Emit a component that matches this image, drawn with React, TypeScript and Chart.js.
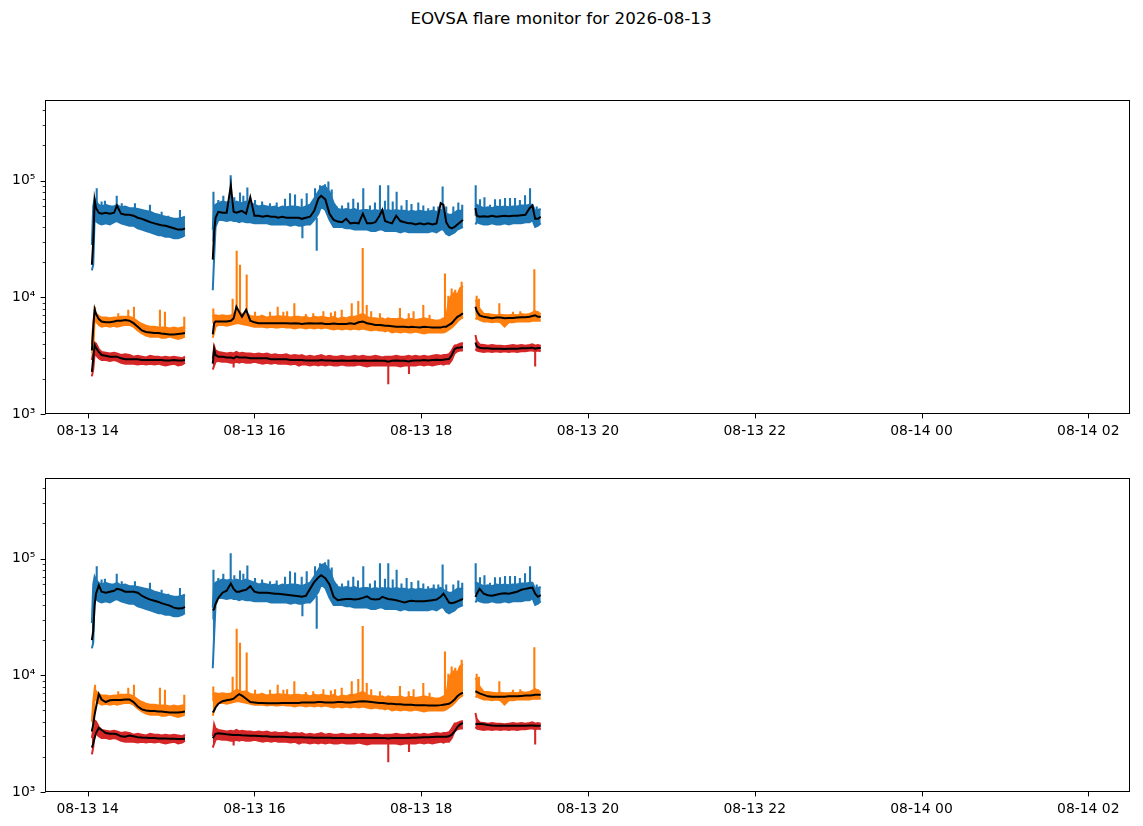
import { useEffect, useRef } from 'react';
import { Chart, registerables, type ChartConfiguration, type Plugin } from 'chart.js';

Chart.register(...registerables);

// sample times, minutes after 08-13 14:00 (three observing segments)
const sampleMinutes = [
  3, 4, 5, 6, 8, 10, 13, 16, 19, 21, 24, 27, 30, 33, 36, 39, 42, 45, 48, 51, 53, 56, 59, 62, 65, 68, 70,
  90, 91, 92, 94, 97, 100, 103, 105, 107, 109, 111, 114, 117, 120, 123, 126, 129, 132, 135, 137, 140, 143, 146, 149, 152,
  154, 157, 160, 163, 166, 168, 171, 174, 177, 180, 183, 186, 189, 192, 195, 198, 201, 204, 207, 210, 212, 214, 216, 219,
  222, 225, 228, 231, 233, 236, 239, 242, 245, 248, 251, 254, 256, 258, 260, 262, 264, 266, 268, 270,
  279, 280, 282, 285, 288, 291, 294, 297, 300, 303, 306, 309, 312, 315, 318, 320, 322, 324, 326,
];

// all values below are in thousands of counts
// raw data: upper / lower edge of the noise band per sample
const blueHighK = [
  28, 60, 70, 66, 62, 60, 62, 60, 60, 62, 59, 60, 58, 58, 57, 56, 55, 54, 52, 51, 50, 49, 48, 47, 47, 48, 49,
  38, 60, 62, 64, 66, 65, 66, 64, 66, 65, 64, 66, 64, 62, 60, 61, 60, 59, 60, 58, 60, 59, 60, 60, 59,
  58, 60, 62, 70, 80, 88, 88, 80, 64, 57, 56, 57, 56, 57, 55, 56, 56, 55, 56, 55, 56, 55, 56, 55,
  56, 55, 55, 54, 55, 54, 55, 54, 54, 55, 54, 56, 54, 52, 51, 51, 53, 55, 55, 56,
  60, 62, 60, 58, 59, 58, 60, 59, 60, 59, 60, 60, 61, 61, 62, 62, 55, 56, 57,
];
const blueLowK = [
  17, 19, 48, 45, 43, 42, 43, 42, 44, 45, 43, 42, 41, 41, 39, 38, 37, 36, 35, 34, 34, 33, 33, 32, 32, 33, 34,
  11.5, 22, 40, 46, 46, 45, 46, 45, 45, 44, 45, 44, 44, 43, 43, 43, 43, 42, 42, 42, 42, 42, 41, 42, 41,
  41, 42, 42, 46, 52, 60, 56, 46, 40, 40, 40, 39, 39, 38, 38, 38, 38, 37, 37, 38, 38, 37, 37, 37,
  37, 36, 37, 36, 36, 36, 36, 36, 36, 37, 36, 38, 38, 35, 34, 35, 36, 38, 39, 40,
  42, 44, 43, 42, 42, 43, 42, 42, 43, 42, 43, 43, 43, 44, 44, 46, 40, 41, 43,
];
const orangeHighK = [
  4.0, 6.0, 7.6, 7.3, 6.9, 6.7, 6.7, 6.6, 6.7, 6.7, 6.8, 6.8, 6.8, 6.6, 6.2, 5.9, 5.7, 5.6, 5.6, 5.5, 5.5, 5.5, 5.4, 5.5, 5.4, 5.5, 5.6,
  6.8, 7.0, 7.0, 6.9, 7.0, 6.9, 7.0, 7.2, 7.5, 7.4, 7.2, 7.3, 6.9, 6.8, 6.8, 6.9, 6.7, 6.8, 6.8, 6.9, 6.8, 6.8, 6.7, 6.8, 6.8,
  6.7, 6.8, 6.6, 6.8, 6.7, 6.8, 6.7, 6.6, 6.8, 6.5, 6.7, 6.6, 6.8, 6.8, 7.0, 7.2, 6.8, 6.6, 6.6, 6.5, 6.6, 6.4, 6.6, 6.5,
  6.5, 6.6, 6.4, 6.5, 6.5, 6.4, 6.5, 6.6, 6.5, 6.4, 6.3, 6.4, 6.6, 6.8, 9.5, 10.5, 11, 10.5, 12, 12.5,
  9.5, 9.2, 8.0, 7.2, 7.2, 7.1, 7.0, 7.1, 7.0, 7.0, 7.1, 7.0, 7.2, 7.1, 7.2, 7.4, 7.6, 7.4, 7.2,
];
const orangeLowK = [
  3.3, 3.6, 6.5, 6.2, 5.8, 5.6, 5.7, 5.6, 5.7, 5.6, 5.7, 5.8, 5.8, 5.6, 5.2, 4.9, 4.7, 4.6, 4.6, 4.6, 4.5, 4.5, 4.6, 4.5, 4.4, 4.5, 4.6,
  4.5, 5.0, 5.6, 5.8, 5.8, 5.7, 5.8, 5.9, 6.0, 6.0, 5.9, 5.8, 5.7, 5.6, 5.6, 5.6, 5.5, 5.6, 5.5, 5.5, 5.6, 5.5, 5.5, 5.4, 5.5,
  5.5, 5.4, 5.5, 5.4, 5.5, 5.4, 5.5, 5.4, 5.3, 5.4, 5.3, 5.4, 5.3, 5.4, 5.3, 5.4, 5.3, 5.2, 5.3, 5.2, 5.2, 5.1, 5.2, 5.0,
  5.1, 5.0, 5.1, 5.0, 5.0, 5.1, 5.0, 4.9, 5.0, 5.0, 5.0, 5.0, 5.0, 5.1, 5.3, 5.5, 5.8, 6.2, 6.5, 6.8,
  6.5, 6.6, 6.4, 6.2, 6.2, 6.1, 6.2, 6.1, 5.6, 6.1, 6.1, 6.2, 6.2, 6.2, 6.2, 6.3, 6.3, 6.3, 6.3,
];
const redHighK = [
  2.9, 3.4, 4.1, 4.0, 3.6, 3.4, 3.35, 3.3, 3.35, 3.3, 3.2, 3.25, 3.2, 3.1, 3.15, 3.1, 3.05, 3.15, 3.1, 3.1, 3.05, 3.1, 3.05, 3.1, 3.05, 3.0, 3.1,
  3.0, 3.8, 3.5, 3.4, 3.35, 3.3, 3.35, 3.3, 3.4, 3.3, 3.35, 3.3, 3.3, 3.25, 3.3, 3.25, 3.3, 3.2, 3.25, 3.2, 3.2, 3.25, 3.15, 3.2, 3.15,
  3.2, 3.1, 3.15, 3.1, 3.15, 3.2, 3.1, 3.15, 3.1, 3.1, 3.15, 3.1, 3.1, 3.15, 3.1, 3.15, 3.1, 3.1, 3.15, 3.1, 3.05, 3.1, 3.1, 3.1,
  3.15, 3.1, 3.1, 3.15, 3.1, 3.15, 3.1, 3.15, 3.1, 3.15, 3.2, 3.15, 3.2, 3.2, 3.25, 3.5, 3.85, 3.9, 4.0, 4.05,
  4.75, 4.2, 3.95, 3.9, 3.85, 3.9, 3.85, 3.85, 3.8, 3.85, 3.9, 3.85, 3.9, 3.85, 3.9, 3.95, 3.85, 3.9, 3.85,
];
const redLowK = [
  2.1, 2.4, 3.3, 3.2, 3.0, 2.9, 2.9, 2.85, 2.9, 2.85, 2.75, 2.7, 2.7, 2.7, 2.65, 2.7, 2.65, 2.7, 2.65, 2.7, 2.65, 2.6, 2.65, 2.7, 2.6, 2.65, 2.75,
  2.4, 2.6, 2.8, 2.85, 2.8, 2.8, 2.75, 2.75, 2.8, 2.75, 2.8, 2.75, 2.75, 2.8, 2.75, 2.7, 2.75, 2.7, 2.75, 2.7, 2.7, 2.7, 2.65, 2.7, 2.6,
  2.65, 2.65, 2.6, 2.65, 2.6, 2.65, 2.6, 2.65, 2.6, 2.6, 2.65, 2.6, 2.6, 2.6, 2.65, 2.6, 2.55, 2.6, 2.6, 2.6, 2.6, 2.6, 2.6, 2.6,
  2.6, 2.55, 2.6, 2.6, 2.6, 2.6, 2.65, 2.6, 2.65, 2.6, 2.65, 2.7, 2.65, 2.7, 2.7, 2.9, 3.3, 3.45, 3.5, 3.5,
  3.6, 3.5, 3.45, 3.4, 3.45, 3.4, 3.45, 3.4, 3.45, 3.4, 3.45, 3.4, 3.45, 3.45, 3.5, 3.5, 3.45, 3.5, 3.45,
];

// single-sample excursions: time (minutes), start and end value (thousands)
const blueSpikeMinutes = [
  6.5, 10, 12.4, 16, 20.9, 24.5, 34, 44.8, 53.2, 58, 66.4, 90.5, 94, 97.6, 102.9, 105.5, 109.6, 112, 114.9, 120.4,
  125.5, 131.2, 136, 142, 145.6, 149.2, 154, 154.5, 157.6, 163.6, 164.8, 167.2, 169.6, 170.8, 173.2, 175.6, 179.2, 183, 187.5, 191.1,
  194.5, 198.3, 203.1, 206.7, 210.3, 213.9, 216.3, 219.5, 222.3, 225.8, 229.5, 233, 237.9, 241.5, 245, 249, 252.3, 255.4, 258, 263.1,
  266.7, 269.5, 279.2, 282.3, 285.5, 289.5, 293.1, 296.7, 300.3, 303.9, 307.5, 311, 314.7, 318.3, 323.1,
];
const blueSpikeFromK = [
  55, 55, 55, 55, 55, 52, 50, 46, 42, 42, 42, 30, 52, 52, 52, 52, 52, 52, 52, 50,
  50, 50, 50, 50, 50, 50, 50, 42, 50, 55, 48, 65, 65, 65, 60, 55, 45, 45, 45, 45,
  45, 45, 45, 45, 45, 45, 45, 45, 45, 45, 45, 45, 45, 45, 45, 45, 45, 45, 45, 44,
  45, 45, 50, 50, 50, 50, 50, 50, 50, 50, 50, 50, 50, 52, 48,
];
const blueSpikeToK = [
  86, 66, 67, 61, 74, 64, 64, 62, 54, 50, 56, 80, 68, 74, 111, 72, 79, 74, 87, 68,
  66, 64, 65, 70, 78, 76, 70, 32, 78, 86, 25, 91, 91, 93, 98, 84, 60, 61, 65, 70,
  65, 86, 61, 65, 91, 67, 91, 66, 80, 61, 68, 63, 65, 61, 58, 60, 60, 89, 60, 60,
  65, 62, 91, 69, 72, 62, 69, 69, 71, 71, 71, 68, 75, 86, 60,
];
const orangeSpikeMinutes = [
  5.3, 22, 29.2, 33.3, 52, 55.6, 69.5, 90.4, 104.3, 107.2, 109.6, 114.4, 120.4, 125.2, 131.2, 136.7,
  140.8, 143.5, 148.7, 157, 162.3, 169.6, 175, 178, 182.8, 190, 194.7, 197.9, 200.8, 204, 210.3, 224.7,
  231, 234.5, 241.5, 246, 257.1, 259.5, 261.9, 264.5, 269.1, 279.9, 281.5, 296.2, 306, 311.3, 321.4, 324,
];
const orangeSpikeFromK = [
  6.5, 6.2, 6.3, 6.0, 5.0, 5.0, 5.0, 6.0, 6.2, 6.5, 6.5, 6.5, 6.2, 6.0, 6.0, 6.0,
  6.0, 6.0, 6.0, 6.0, 6.0, 6.0, 6.0, 6.0, 6.0, 6.0, 6.0, 6.0, 6.0, 6.0, 5.8, 5.6,
  5.6, 5.6, 5.6, 5.6, 5.6, 6.0, 6.0, 6.0, 6.5, 7.0, 7.0, 6.6, 6.6, 6.6, 6.8, 6.8,
];
const orangeSpikeToK = [
  8.3, 7.3, 7.8, 8.3, 7.8, 7.5, 6.8, 8.0, 9.7, 25, 19, 15.7, 7.5, 7.1, 7.5, 8.3,
  7.5, 7.6, 8.9, 7.2, 7.3, 7.6, 7.4, 7.6, 7.8, 8.9, 9.3, 26.5, 8.6, 7.6, 7.3, 8.1,
  7.3, 7.6, 8.6, 7.1, 16, 10.3, 11.9, 11.6, 13.6, 10.3, 9.7, 8.9, 7.5, 7.6, 17.4, 7.6,
];
const redSpikeMinutes = [105, 216.3, 231.2, 322];
const redSpikeFromK = [2.8, 2.7, 2.7, 3.4];
const redSpikeToK = [2.5, 1.8, 2.2, 2.55];

// smoothed curves, upper panel
const topBlueK = [
  19, 30, 68, 58, 53, 52, 53, 52, 53, 61, 52, 51, 51, 50, 48, 47, 45.5, 44, 43, 42, 41.5, 41, 40, 39, 38, 38, 39,
  21, 36, 48, 54, 53, 53, 91, 54, 53, 54, 55, 52, 72, 50, 50, 49, 50, 49, 49, 48, 49, 48, 48, 48, 48,
  47, 48, 49, 55, 70, 74, 69, 52, 46, 44.5, 44, 47, 43, 43.5, 43, 52, 43, 43, 44, 50, 56, 45, 44, 43,
  50, 45, 44, 43, 43, 42, 43, 42, 43, 42, 43, 64, 62, 44, 40, 39, 40, 42, 44, 46,
  58, 50, 49, 49.5, 49, 50, 49, 49.5, 50, 49.5, 50, 50, 50.5, 51, 58, 61, 47, 47, 49,
];
const topOrangeK = [
  3.5, 5.5, 7.9, 7.2, 6.5, 6.2, 6.1, 6.1, 6.2, 6.3, 6.3, 6.4, 6.3, 6.0, 5.6, 5.2, 5.05, 5.0, 4.95, 4.95, 4.9, 4.85, 4.8, 4.8, 4.85, 4.9, 4.95,
  4.8, 6.0, 6.2, 6.2, 6.2, 6.2, 6.3, 6.6, 8.3, 7.5, 6.8, 7.8, 6.3, 6.1, 6.0, 6.0, 6.0, 6.0, 6.0, 6.0, 6.0, 6.0, 5.95, 6.0, 5.95,
  5.9, 5.95, 6.0, 5.95, 5.95, 6.0, 5.9, 5.9, 5.95, 5.9, 5.9, 5.9, 6.0, 5.9, 6.1, 6.2, 6.0, 5.9, 5.8, 5.8, 5.75, 5.7, 5.7, 5.65,
  5.6, 5.6, 5.6, 5.55, 5.6, 5.55, 5.5, 5.6, 5.55, 5.5, 5.5, 5.5, 5.6, 5.6, 5.8, 6.0, 6.4, 6.8, 7.0, 7.3,
  8.3, 7.6, 7.0, 6.8, 6.7, 6.6, 6.7, 6.7, 6.6, 6.65, 6.65, 6.7, 6.75, 6.75, 6.8, 6.9, 7.0, 6.8, 6.8,
];
const topRedK = [
  2.3, 3.0, 3.9, 3.7, 3.4, 3.2, 3.15, 3.1, 3.1, 3.1, 3.0, 2.95, 2.95, 2.95, 2.95, 2.9, 2.9, 2.9, 2.9, 2.9, 2.9, 2.88, 2.88, 2.9, 2.88, 2.88, 2.9,
  2.7, 3.6, 3.2, 3.1, 3.1, 3.05, 3.05, 3.0, 3.1, 3.05, 3.05, 3.05, 3.0, 3.0, 3.0, 3.0, 3.0, 2.95, 2.95, 2.95, 2.95, 2.95, 2.9, 2.9, 2.9,
  2.9, 2.88, 2.88, 2.88, 2.88, 2.9, 2.88, 2.88, 2.86, 2.86, 2.88, 2.86, 2.86, 2.88, 2.86, 2.88, 2.86, 2.86, 2.88, 2.86, 2.86, 2.86, 2.8, 2.86,
  2.88, 2.86, 2.86, 2.82, 2.86, 2.88, 2.88, 2.9, 2.88, 2.9, 2.92, 2.9, 2.92, 2.94, 2.96, 3.2, 3.6, 3.7, 3.72, 3.75,
  4.1, 3.8, 3.7, 3.65, 3.65, 3.62, 3.62, 3.62, 3.6, 3.62, 3.63, 3.63, 3.65, 3.65, 3.67, 3.7, 3.62, 3.68, 3.68,
];

// smoothed curves, lower panel
const bottomBlueK = [
  20, 24, 40, 50, 59, 52, 51, 52, 53, 55, 54, 52, 52, 52, 51, 48, 46, 44.5, 43.5, 42.5, 41.5, 40.5, 39.5, 38, 37.3, 37.5, 38.5,
  36, 37, 41, 46, 51, 53, 61, 55, 52, 52, 53, 54, 58, 52, 51, 51, 51, 50.5, 50, 50, 49.5, 49, 48.5, 48, 47.5,
  47, 48, 55, 63, 69, 72, 68, 60, 47, 44, 44.5, 45, 45, 44.5, 45, 46, 47.5, 45, 44.5, 45, 47, 46, 45, 44.5,
  44, 43, 42, 43, 43.5, 43, 43, 43, 43.5, 44, 44.5, 47, 50, 46, 42, 41.5, 42, 43, 44, 45,
  47, 50, 55, 50, 48.5, 48, 49, 50, 50.5, 50, 51, 52, 54, 55, 56, 56.5, 50, 47, 48.5,
];
const bottomOrangeK = [
  3.3, 3.8, 4.6, 5.3, 6.9, 6.2, 5.9, 6.1, 6.15, 6.15, 6.15, 6.2, 6.2, 5.9, 5.4, 5.1, 5.0, 4.95, 4.95, 4.9, 4.9, 4.85, 4.8, 4.8, 4.8, 4.85, 4.9,
  4.8, 5.0, 5.3, 5.7, 6.0, 6.1, 6.2, 6.3, 6.6, 6.9, 6.7, 6.3, 5.9, 5.85, 5.8, 5.8, 5.75, 5.75, 5.75, 5.75, 5.8, 5.8, 5.8, 5.8, 5.8,
  5.85, 5.85, 5.85, 5.85, 5.9, 5.9, 5.85, 5.85, 5.85, 5.9, 5.9, 5.85, 5.85, 5.9, 5.95, 6.0, 5.95, 5.9, 5.85, 5.8, 5.8, 5.75, 5.7, 5.7,
  5.65, 5.65, 5.6, 5.6, 5.6, 5.55, 5.55, 5.55, 5.5, 5.5, 5.5, 5.55, 5.6, 5.65, 5.7, 5.9, 6.2, 6.6, 6.9, 7.1,
  7.3, 7.2, 7.0, 6.8, 6.6, 6.55, 6.55, 6.55, 6.55, 6.6, 6.6, 6.6, 6.65, 6.7, 6.7, 6.75, 6.8, 6.8, 6.8,
];
const bottomRedK = [
  2.4, 2.6, 2.9, 3.2, 3.55, 3.4, 3.2, 3.15, 3.15, 3.12, 3.0, 2.97, 3.05, 3.0, 2.95, 2.93, 2.92, 2.9, 2.9, 2.88, 2.88, 2.87, 2.86, 2.86, 2.85, 2.85, 2.86,
  2.9, 3.0, 3.15, 3.18, 3.15, 3.12, 3.1, 3.08, 3.08, 3.08, 3.06, 3.05, 3.04, 3.03, 3.02, 3.0, 3.0, 2.98, 2.98, 2.97, 2.97, 2.96, 2.95, 2.95, 2.95,
  2.94, 2.93, 2.93, 2.92, 2.92, 2.92, 2.91, 2.91, 2.9, 2.9, 2.9, 2.9, 2.9, 2.9, 2.9, 2.9, 2.9, 2.9, 2.9, 2.9, 2.9, 2.9, 2.88, 2.9,
  2.9, 2.9, 2.9, 2.9, 2.91, 2.92, 2.93, 2.94, 2.95, 2.96, 2.97, 2.97, 2.98, 2.98, 3.0, 3.1, 3.3, 3.6, 3.8, 3.9,
  3.8, 3.82, 3.85, 3.8, 3.75, 3.72, 3.7, 3.7, 3.7, 3.7, 3.7, 3.7, 3.7, 3.7, 3.72, 3.72, 3.7, 3.7, 3.7,
];

// axes
const xTickHours = [14, 16, 18, 20, 22, 24, 26];
const xTickLabels = ['08-13 14', '08-13 16', '08-13 18', '08-13 20', '08-13 22', '08-14 00', '08-14 02'];
const yMajorTicks = [1e3, 1e4, 1e5];
const yMajorLabels = ['10\u00b3', '10\u2074', '10\u2075'];
const yMinorTicks = [
  2e3, 3e3, 4e3, 5e3, 6e3, 7e3, 8e3, 9e3,
  2e4, 3e4, 4e4, 5e4, 6e4, 7e4, 8e4, 9e4,
  2e5, 3e5, 4e5,
];

const X_MIN = 13.488;
const X_MAX = 26.504;
const Y_MIN = 1000;
const Y_MAX = 4.9e5;

const BLUE = '#1f77b4';
const ORANGE = '#ff7f0e';
const RED = '#d62728';
const FONT = { family: 'DejaVu Sans', size: 13.9 };

type Pt = { x: number; y: number | null };

function toPoints(valuesK: number[]) {
  const pts: Pt[] = [];
  sampleMinutes.forEach((m, i) => {
    const prev = sampleMinutes[i - 1];
    if (i > 0 && m - prev > 5) pts.push({ x: 14 + (m + prev) / 120, y: null });
    pts.push({ x: 14 + m / 60, y: valuesK[i] * 1000 });
  });
  return pts;
}

function spikePoints(minutes: number[], fromK: number[], toK: number[]) {
  const pts: Pt[] = [];
  minutes.forEach((m, i) => {
    const x = 14 + m / 60;
    pts.push({ x, y: fromK[i] * 1000 }, { x, y: toK[i] * 1000 }, { x, y: null });
  });
  return pts;
}

const axesFrame: Plugin = {
  id: 'axesFrame',
  afterDraw(chart) {
    const { ctx, chartArea: a } = chart;
    const xs = chart.scales.x;
    const ys = chart.scales.y;
    const left = Math.round(a.left) + 0.5;
    const right = Math.round(a.right) - 0.5;
    const top = Math.round(a.top) + 0.5;
    const bottom = Math.round(a.bottom) - 0.5;
    ctx.save();
    ctx.strokeStyle = '#000';
    ctx.lineWidth = 1;
    ctx.strokeRect(left, top, right - left, bottom - top);
    ys.ticks.forEach((t) => {
      const major = yMajorTicks.includes(t.value);
      const py = Math.round(ys.getPixelForValue(t.value)) + 0.5;
      ctx.lineWidth = major ? 1 : 0.8;
      ctx.beginPath();
      ctx.moveTo(left, py);
      ctx.lineTo(left - (major ? 4.9 : 2.8), py);
      ctx.stroke();
    });
    ctx.lineWidth = 1;
    xs.ticks.forEach((t) => {
      const px = Math.round(xs.getPixelForValue(t.value)) + 0.5;
      ctx.beginPath();
      ctx.moveTo(px, bottom);
      ctx.lineTo(px, bottom + 4.9);
      ctx.stroke();
    });
    ctx.restore();
  },
};

function noEdgePadding(scale: any) {
  scale.paddingTop = 0;
  scale.paddingBottom = 0;
  scale.paddingLeft = 0;
  scale.paddingRight = 0;
}

function buildConfig(smoothK: number[][]): ChartConfiguration<'line'> {
  const bands = [
    { color: BLUE, hi: blueHighK, lo: blueLowK, sm: blueSpikeMinutes, sf: blueSpikeFromK, st: blueSpikeToK },
    { color: ORANGE, hi: orangeHighK, lo: orangeLowK, sm: orangeSpikeMinutes, sf: orangeSpikeFromK, st: orangeSpikeToK },
    { color: RED, hi: redHighK, lo: redLowK, sm: redSpikeMinutes, sf: redSpikeFromK, st: redSpikeToK },
  ];
  const datasets: any[] = [];
  bands.forEach((b) => {
    datasets.push({
      data: toPoints(b.hi),
      borderColor: b.color,
      backgroundColor: b.color,
      borderWidth: 2,
      pointRadius: 0,
      fill: '+1',
      order: 2,
    });
    datasets.push({
      data: toPoints(b.lo),
      borderColor: b.color,
      borderWidth: 2,
      pointRadius: 0,
      fill: false,
      order: 2,
    });
    datasets.push({
      data: spikePoints(b.sm, b.sf, b.st),
      borderColor: b.color,
      borderWidth: 2.1,
      pointRadius: 0,
      fill: false,
      order: 1,
    });
  });
  smoothK.forEach((s) => {
    datasets.push({
      data: toPoints(s),
      borderColor: '#000',
      borderWidth: 2,
      pointRadius: 0,
      fill: false,
      order: 0,
    });
  });

  return {
    type: 'line',
    data: { datasets },
    options: {
      animation: false,
      responsive: false,
      events: [],
      layout: { padding: { top: 10, right: 12.7, left: 0, bottom: 0 } },
      plugins: {
        legend: { display: false },
        tooltip: { enabled: false },
      },
      scales: {
        x: {
          type: 'linear',
          min: X_MIN,
          max: X_MAX,
          afterBuildTicks: (scale: any) => {
            scale.ticks = xTickHours.map((v) => ({ value: v }));
          },
          afterFit: (scale: any) => {
            scale.height = 40;
            noEdgePadding(scale);
          },
          grid: { display: false, drawTicks: false },
          border: { display: false },
          ticks: {
            autoSkip: false,
            maxRotation: 0,
            padding: 9,
            color: '#000',
            font: FONT,
            callback: (_v: any, i: number) => xTickLabels[i] ?? '',
          },
        },
        y: {
          type: 'logarithmic',
          min: Y_MIN,
          max: Y_MAX,
          afterBuildTicks: (scale: any) => {
            scale.ticks = [...yMajorTicks, ...yMinorTicks].sort((p, q) => p - q).map((v) => ({ value: v }));
          },
          afterFit: (scale: any) => {
            scale.width = 45;
            noEdgePadding(scale);
          },
          grid: { display: false, drawTicks: false },
          border: { display: false },
          ticks: {
            autoSkip: false,
            padding: 9.7,
            color: '#000',
            font: FONT,
            callback: (v: any) => {
              const k = yMajorTicks.indexOf(Number(v));
              return k >= 0 ? yMajorLabels[k] : '';
            },
          },
        },
      },
    },
    plugins: [axesFrame],
  };
}

function MonitorPanel({ smoothK, top }: { smoothK: number[][]; top: number }) {
  const canvasRef = useRef<HTMLCanvasElement | null>(null);
  const chartRef = useRef<Chart | null>(null);

  useEffect(() => {
    if (!canvasRef.current) return;
    chartRef.current?.destroy();
    chartRef.current = new Chart(canvasRef.current, buildConfig(smoothK));
    return () => {
      chartRef.current?.destroy();
      chartRef.current = null;
    };
  }, [smoothK]);

  return (
    <canvas
      ref={canvasRef}
      width={1143}
      height={364}
      style={{ position: 'absolute', left: 0, top, width: 1143, height: 364 }}
    />
  );
}

const topSmooth = [topBlueK, topOrangeK, topRedK];
const bottomSmooth = [bottomBlueK, bottomOrangeK, bottomRedK];

export default function App() {
  return (
    <div style={{ position: 'absolute', left: 0, top: 0, width: 1143, height: 826, background: '#fff' }}>
      <div
        style={{
          position: 'absolute',
          left: 0,
          top: 10,
          width: 1122,
          textAlign: 'center',
          fontFamily: 'DejaVu Sans',
          fontSize: '16.7px',
          lineHeight: '16.7px',
          color: '#000',
        }}
      >
        EOVSA flare monitor for 2026-08-13
      </div>
      <MonitorPanel smoothK={topSmooth} top={90} />
      <MonitorPanel smoothK={bottomSmooth} top={468} />
    </div>
  );
}
